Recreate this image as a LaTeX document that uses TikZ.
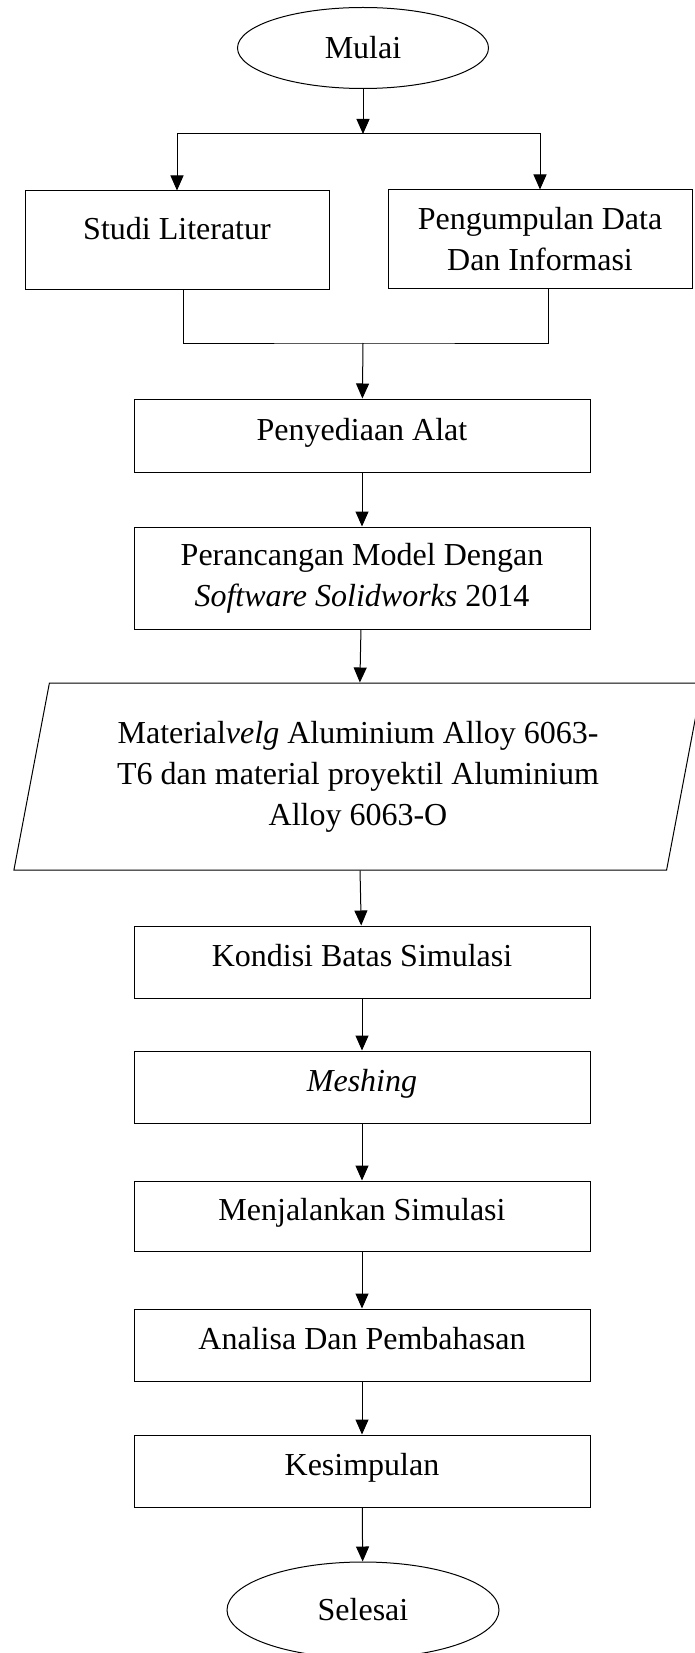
\documentclass[tikz,border=0pt]{standalone}
\usepackage{fontspec}
\setmainfont{Liberation Serif}
\usetikzlibrary{shapes.geometric,arrows.meta}

\tikzset{
  kotak/.style={draw, rectangle, minimum width=456pt, inner sep=0pt, align=center, font=\fontsize{32}{41}\selectfont},
  satubaris/.style={text height=22pt, text depth=13pt},
  terminal/.style={draw, ellipse, inner sep=0pt, font=\fontsize{32}{41}\selectfont},
  masukan/.style={draw, trapezium, trapezium left angle=76, trapezium right angle=104, trapezium stretches=true, inner sep=0pt, align=center, font=\fontsize{32}{41}\selectfont},
  panah/.style={-{Triangle[length=15pt,width=13pt]}},
}

\begin{document}
\begin{tikzpicture}[x=1pt, y=-1pt, line width=1pt]

    \useasboundingbox (0,0) rectangle (694,1653);

    \draw (363,48) node[terminal, minimum width=251pt, minimum height=81pt] (mulai) {Mulai};
    \draw (177,240) node[kotak, satubaris, minimum width=304pt, minimum height=98pt, text depth=22pt] (studi) {Studi Literatur};
    \draw (540,239) node[kotak, minimum width=304pt, minimum height=98pt] (data) {Pengumpulan Data\\Dan Informasi};
    \draw (362,435.5) node[kotak, satubaris, minimum height=73pt] (alat) {Penyediaan Alat};
    \draw (362,578) node[kotak, minimum height=102pt] (model) {Perancangan Model Dengan\\\textit{Software Solidworks} 2014};
    \draw (358,776.5) node[masukan, minimum width=694pt, minimum height=187pt] (material) {Material\textit{velg} Aluminium Alloy 6063-\\T6 dan material proyektil Aluminium\\Alloy 6063-O};
    \draw (362,962) node[kotak, satubaris, minimum height=72pt] (kondisi) {Kondisi Batas Simulasi};
    \draw (362,1087) node[kotak, satubaris, minimum height=72pt] (meshing) {\textit{Meshing}};
    \draw (362,1216) node[kotak, satubaris, minimum height=70pt] (jalan) {Menjalankan Simulasi};
    \draw (362,1345) node[kotak, satubaris, minimum height=72pt] (analisa) {Analisa Dan Pembahasan};
    \draw (362,1471) node[kotak, satubaris, minimum height=72pt] (simpul) {Kesimpulan};
    \draw (363,1610) node[terminal, minimum width=272pt, minimum height=96pt] (selesai) {Selesai};

    \coordinate (cabang) at (363,134);
    \coordinate (gabung) at (363,343);

    \draw[panah] (mulai) -- (cabang);
    \draw[panah] (cabang) -| (studi);
    \draw[panah] (cabang) -| (data);
    \draw ([xshift=6pt]studi.south) |- (gabung) -| ([xshift=8pt]data.south);
    \draw[panah] (gabung) -- (alat);

    \foreach \a/\b in {alat/model, model/material, material/kondisi, kondisi/meshing, meshing/jalan, jalan/analisa, analisa/simpul, simpul/selesai}
    \draw[panah] (\a) -- (\b);

\end{tikzpicture}
\end{document}
